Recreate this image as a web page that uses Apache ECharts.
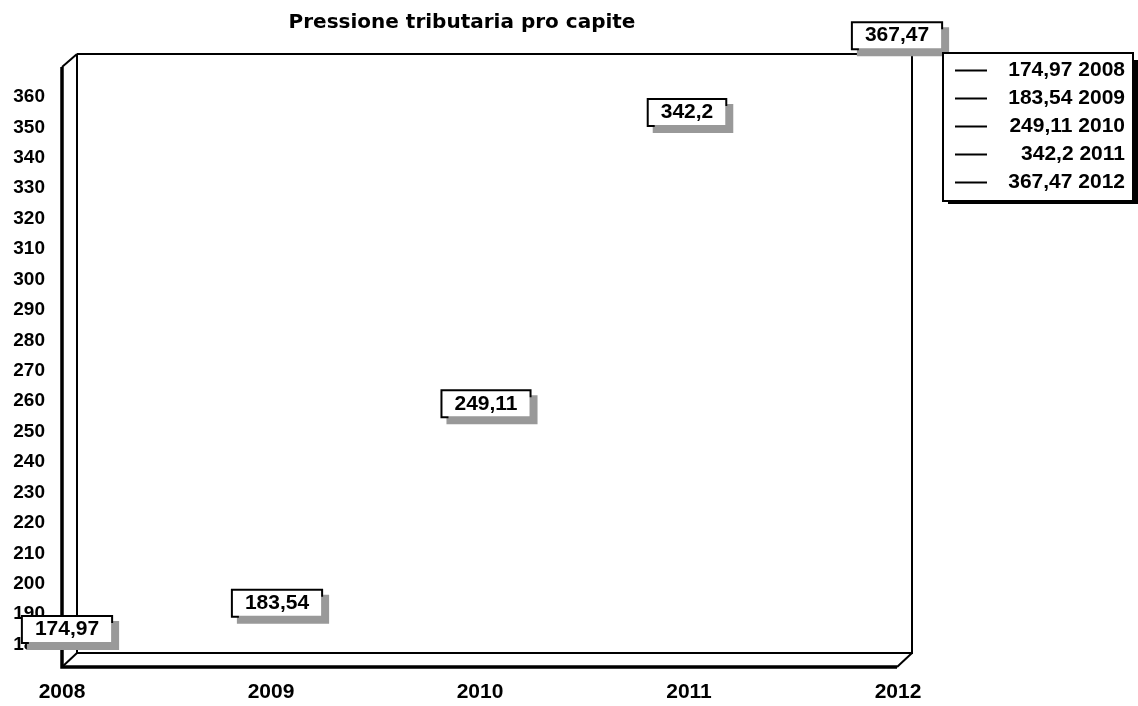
<!DOCTYPE html>
<html>
<head>
<meta charset="utf-8">
<script src="https://cdn.jsdelivr.net/npm/echarts@6/dist/echarts.min.js"></script>
<style>
  html, body { margin: 0; padding: 0; background: #fff; }
  #container { width: 1138px; height: 706px; }
</style>
</head>
<body>
<div id="container"></div>
<script>
var dom = document.getElementById("container");
var myChart = echarts.init(dom);

var years = ['2008', '2009', '2010', '2011', '2012'];
var values = [174.97, 183.54, 249.11, 342.2, 367.47];

var font = "'Liberation Sans', Arial, sans-serif";

// label placement tweaks (style only)
var labelOffsets = [[5, 0], [6, 0], [6, 0], [-2, -8], [-1, -8]];

function fmt(v) {
    return String(v).replace('.', ',');
}

var seriesList = [];
years.forEach(function (year, i) {
    var data = years.map(function (y, j) { return j === i ? values[i] : null; });
    seriesList.push({
        type: 'scatter',
        name: fmt(values[i]) + ' ' + year,
        data: data,
        symbolSize: 0,
        itemStyle: { color: '#000', opacity: 1 },
        label: {
            show: true,
            position: 'top',
            distance: 18,
            offset: labelOffsets[i],
            formatter: function (p) { return fmt(p.value); },
            fontFamily: font,
            fontSize: 21,
            fontWeight: 'bold',
            color: '#000',
            backgroundColor: '#fff',
            borderColor: '#000',
            borderWidth: 2,
            padding: [2, 12, 2, 12],
            shadowColor: '#999',
            shadowOffsetX: 6,
            shadowOffsetY: 6,
            shadowBlur: 0
        }
    });
});

// 3D-looking frame (decoration only)
var frame = [
    [[77, 54], [912, 54], [912, 653], [77, 653], [77, 54]],
    [[62, 67], [77, 54]],
    [[62, 667], [77, 653]],
    [[897, 667], [912, 653]]
];
var graphics = frame.map(function (pts) {
    return {
        type: 'polyline',
        shape: { points: pts },
        style: { stroke: '#000', lineWidth: 2, fill: null }
    };
});
graphics.push({
    type: 'polyline',
    shape: { points: [[62, 67], [62, 667], [897, 667]] },
    style: { stroke: '#000', lineWidth: 3.5, fill: null }
});
// legend drop shadow
graphics.push({
    type: 'rect',
    shape: { x: 948, y: 60, width: 190, height: 144 },
    style: { fill: '#000' }
});

var option = {
    animation: false,
    backgroundColor: '#fff',
    title: {
        text: 'Pressione tributaria pro capite',
        left: 457,
        top: 8,
        textAlign: 'center',
        textStyle: { fontFamily: "'DejaVu Sans', sans-serif", fontSize: 20, fontWeight: 'bold', color: '#000' }
    },
    legend: {
        orient: 'vertical',
        left: 943,
        top: 53,
        padding: [7, 8, 8, 12],
        itemGap: 7,
        itemWidth: 32,
        itemHeight: 2,
        icon: 'rect',
        backgroundColor: '#fff',
        borderColor: '#000',
        borderWidth: 2,
        borderRadius: 0,
        itemStyle: { color: '#000' },
        formatter: function (name) { return '{t|' + name + '}'; },
        textStyle: {
            rich: {
                t: {
                    width: 133,
                    align: 'right',
                    fontFamily: font,
                    fontSize: 21,
                    fontWeight: 'bold',
                    color: '#000',
                    lineHeight: 20
                }
            }
        }
    },
    grid: {
        left: 62,
        right: 240,
        top: 36,
        bottom: 31
    },
    xAxis: {
        type: 'category',
        data: years,
        boundaryGap: false,
        axisLine: { show: false },
        axisTick: { show: false },
        axisLabel: {
            margin: 7,
            fontFamily: font,
            fontSize: 21,
            fontWeight: 'bold',
            color: '#000'
        }
    },
    yAxis: {
        type: 'value',
        min: 170,
        max: 380,
        interval: 10,
        axisLine: { show: false },
        axisTick: { show: false },
        splitLine: { show: false },
        axisLabel: {
            margin: 17,
            fontFamily: font,
            fontSize: 19,
            fontWeight: 'bold',
            color: '#000',
            formatter: function (v) { return (v < 180 || v > 360) ? '' : v; }
        }
    },
    graphic: graphics,
    series: seriesList
};

myChart.setOption(option);
</script>
</body>
</html>
